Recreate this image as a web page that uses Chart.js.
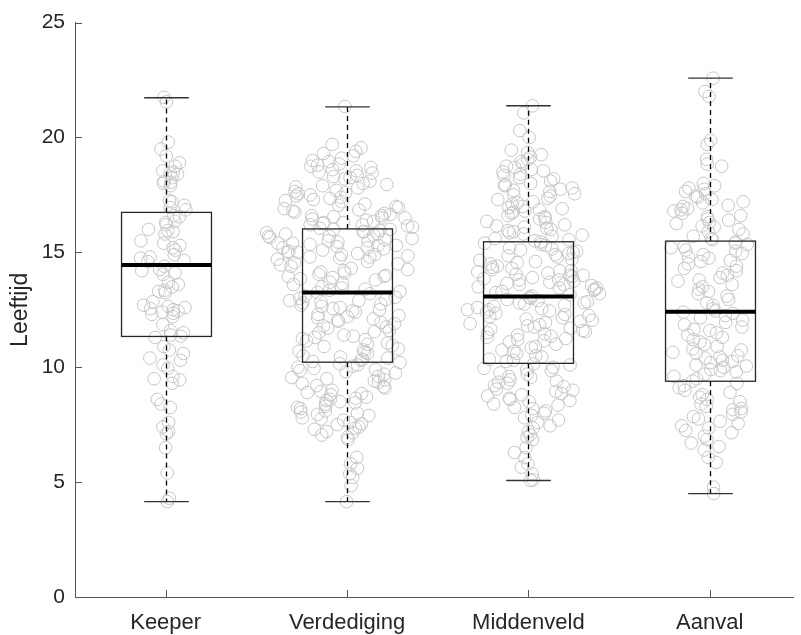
<!DOCTYPE html>
<html><head><meta charset="utf-8">
<script src="https://cdn.jsdelivr.net/npm/chart.js@4"></script>
<style>html,body{margin:0;padding:0;background:#fff}#wrap{width:801px;height:635px}</style>
</head><body><div id="wrap"><canvas id="c" width="801" height="635"></canvas></div>
<script>
const categories = ['Keeper', 'Verdediging', 'Middenveld', 'Aanval'];

const keeperAges = [21.75, 21.55, 19.8, 19.5, 19.2, 18.9, 18.75, 18.55, 18.4, 18.5, 18.45, 18.25, 18.1, 18.0, 18.05, 17.9,
  17.2, 17.25, 17.05, 16.85, 16.95, 16.6, 16.3, 16.0, 16.2, 15.9, 16.55, 16.35, 15.95, 15.8, 15.4, 15.3, 15.5, 15.1,
  14.8, 15.2, 14.9, 14.6, 14.65, 14.75, 14.4, 14.2, 14.25, 14.1, 14.05, 13.6, 13.3, 13.5, 13.35, 13.25, 13.7, 12.85,
  12.65, 12.6, 12.7, 12.4, 12.55, 12.2, 12.45, 12.35, 12.5, 12.3, 11.85, 11.6, 11.5, 11.4, 11.3, 11.35, 10.9, 10.75,
  10.6, 10.4, 10.3, 10.1, 9.95, 9.6, 9.3, 9.45, 9.5, 8.4, 8.6, 8.25, 7.6, 7.4, 7.2, 7.1, 6.5, 5.4, 4.3, 4.15];

const verdedigingAges = [21.35,
  19.7, 19.55, 19.4, 19.3, 19.2, 19.1,
  19.0, 18.95, 18.85, 18.8, 18.75, 18.7, 18.6, 18.55, 18.5, 18.45, 18.35, 18.3, 18.25, 18.2,
  18.1, 18.0, 17.95, 17.9, 17.85, 17.8, 17.7, 17.65, 17.6, 17.55, 17.5, 17.45, 17.4, 17.35,
  17.3, 17.25, 17.2, 17.1, 17.05, 17.0, 16.95, 16.9, 16.85, 16.8, 16.75, 16.7, 16.65, 16.6, 16.6, 16.55, 16.5, 16.5,
  16.45, 16.4, 16.35, 16.3, 16.3, 16.25, 16.2, 16.2, 16.15, 16.1, 16.05, 16.0, 16.0, 15.95, 15.9, 15.9, 15.85, 15.8, 15.8, 15.75, 15.7, 15.7, 15.65, 15.6,
  15.55, 15.5, 15.5, 15.45, 15.4, 15.4, 15.35, 15.3, 15.3, 15.25, 15.2, 15.2, 15.15, 15.1, 15.05, 15.0, 15.0, 14.95, 14.9, 14.9, 14.85, 14.8, 14.8, 14.75,
  14.7, 14.6, 14.55, 14.5, 14.45, 14.4, 14.3, 14.25, 14.2, 14.15, 14.1, 14.05, 14.0, 13.95, 13.95, 13.9,
  13.85, 13.8, 13.7, 13.65, 13.6, 13.5, 13.45, 13.4, 13.35, 13.3, 13.25, 13.2, 13.1, 13.05, 13.0, 12.95, 12.9, 12.9, 12.85,
  12.8, 12.75, 12.7, 12.65, 12.6, 12.55, 12.5, 12.45, 12.4, 12.3, 12.25, 12.2, 12.15, 12.1, 12.05, 12.0,
  11.95, 11.9, 11.8, 11.75, 11.7, 11.6, 11.55, 11.5, 11.4, 11.35, 11.3, 11.25, 11.2, 11.15,
  11.05, 11.0, 10.95, 10.9, 10.8, 10.75, 10.7, 10.65, 10.6, 10.5, 10.45, 10.4, 10.35, 10.3,
  10.25, 10.2, 10.15, 10.1, 10.05, 10.0, 9.95, 9.9, 9.85, 9.8, 9.75, 9.7, 9.6, 9.55, 9.5, 9.45, 9.4,
  9.35, 9.3, 9.2, 9.15, 9.1, 9.0, 8.95, 8.9, 8.85, 8.8, 8.7, 8.65, 8.6, 8.55,
  8.5, 8.45, 8.4, 8.3, 8.25, 8.2, 8.1, 8.05, 8.0, 7.95, 7.9, 7.8, 7.75, 7.7,
  7.6, 7.55, 7.5, 7.4, 7.35, 7.3, 7.2, 7.15, 7.05, 6.95, 6.85,
  6.08, 5.79, 5.6, 5.36, 5.21, 4.85, 4.15];

const middenveldAges = [21.38, 21.07, 20.3, 20.0,
  19.45, 19.35, 19.25, 19.15, 19.05, 18.95, 18.85, 18.75, 18.7, 18.6,
  18.55, 18.5, 18.4, 18.35, 18.25, 18.2, 18.1, 18.0, 17.95, 17.9, 17.8, 17.75,
  17.7, 17.65, 17.55, 17.5, 17.45, 17.35, 17.3, 17.2, 17.15, 17.1, 17.0, 16.95, 16.9,
  16.85, 16.8, 16.75, 16.7, 16.6, 16.55, 16.5, 16.45, 16.35, 16.3, 16.2, 16.15, 16.1, 16.05,
  16.0, 15.95, 15.9, 15.85, 15.8, 15.75, 15.7, 15.6, 15.55, 15.5, 15.45, 15.4, 15.35, 15.3, 15.2, 15.15,
  15.1, 15.05, 15.0, 14.95, 14.9, 14.85, 14.8, 14.7, 14.65, 14.6, 14.55, 14.5, 14.4, 14.35, 14.3,
  14.25, 14.2, 14.2, 14.15, 14.1, 14.05, 14.0, 14.0, 13.95, 13.9, 13.85, 13.8, 13.8, 13.75, 13.7, 13.65, 13.6, 13.6, 13.55, 13.5, 13.45, 13.45,
  13.4, 13.35, 13.3, 13.25, 13.2, 13.15, 13.1, 13.05, 13.0, 12.95, 12.9, 12.85,
  12.8, 12.8, 12.75, 12.7, 12.65, 12.6, 12.55, 12.5, 12.5, 12.45, 12.4, 12.35, 12.3, 12.25, 12.2, 12.15, 12.1, 12.05, 12.0,
  11.95, 11.9, 11.85, 11.8, 11.75, 11.7, 11.65, 11.6, 11.55, 11.5, 11.45, 11.4, 11.35, 11.3, 11.25, 11.2, 11.15,
  11.1, 11.0, 10.9, 10.85, 10.75, 10.7, 10.6, 10.5, 10.45, 10.35, 10.3,
  10.25, 10.15, 10.1, 10.0, 9.95, 9.9, 9.85, 9.75, 9.7, 9.6, 9.55, 9.45, 9.4,
  9.35, 9.3, 9.2, 9.15, 9.05, 9.0, 8.95, 8.85, 8.8, 8.75, 8.65, 8.6, 8.55,
  8.5, 8.4, 8.35, 8.25, 8.2, 8.1, 8.0, 7.9, 7.8, 7.7,
  7.6, 7.45, 7.35, 7.2, 7.05, 6.95, 6.85,
  6.51, 6.29, 6.07, 5.79, 5.65, 5.36, 5.1, 5.07];

const aanvalAges = [22.58, 22.0, 21.78, 19.88, 19.7, 19.05, 18.84, 18.75,
  18.0, 17.9, 17.8, 17.75, 17.65, 17.55, 17.45, 17.4, 17.3, 17.2,
  17.15, 17.05, 17.0, 16.9, 16.85, 16.8, 16.7, 16.6, 16.55, 16.45, 16.4, 16.3,
  16.25, 16.15, 16.1, 16.0, 15.9, 15.8, 15.7, 15.6, 15.55, 15.45,
  15.4, 15.35, 15.25, 15.2, 15.1, 15.05, 14.95, 14.9, 14.8, 14.75, 14.65, 14.6,
  14.5, 14.4, 14.3, 14.2, 14.1, 14.0, 13.9, 13.8, 13.75,
  13.6, 13.5, 13.4, 13.3, 13.2, 13.1, 12.95, 12.8, 12.7, 12.55, 12.45,
  12.4, 12.35, 12.25, 12.15, 12.05, 11.95, 11.85, 11.75, 11.65, 11.6,
  11.5, 11.4, 11.3, 11.2, 11.1, 11.0, 10.9, 10.8, 10.75,
  10.65, 10.6, 10.5, 10.45, 10.4, 10.3, 10.25, 10.2, 10.1, 10.05, 10.0, 9.9, 9.85,
  9.8, 9.7, 9.6, 9.5, 9.4, 9.3, 9.2, 9.1, 9.0,
  8.9, 8.8, 8.7, 8.6, 8.5, 8.4, 8.3, 8.2, 8.15,
  8.05, 7.95, 7.85, 7.75, 7.65, 7.55, 7.45, 7.35, 7.25,
  7.15, 7.0, 6.85, 6.7, 6.55, 6.4, 6.08, 5.86, 4.78, 4.5];

const whiskerLow  = [4.15, 4.15, 5.07, 4.5];
const q1          = [11.34, 10.22, 10.17, 9.39];
const medians     = [14.45, 13.25, 13.08, 12.42];
const q3          = [16.74, 16.02, 15.46, 15.49];
const whiskerHigh = [21.73, 21.33, 21.38, 22.58];
const yTicks = [0, 5, 10, 15, 20, 25];

const groups = [keeperAges, verdedigingAges, middenveldAges, aanvalAges];

// density-scaled spread layout with a deterministic hash jitter
function hash01(a, b) {
  const s = Math.sin(a * 12.9898 + b * 78.233) * 43758.5453;
  return s - Math.floor(s);
}
function spreadOffsets(vals, gi) {
  const h = 0.7, K = 0.0175;
  return vals.map((v, i) => {
    let f = 0;
    for (const w of vals) { const z = (v - w) / h; f += Math.exp(-0.5 * z * z); }
    f /= h * Math.sqrt(2 * Math.PI);
    const u = hash01(i + 1 + gi * 1000, v) * 2 - 1;
    return u * f * K;
  });
}

const datasets = groups.map((vals, gi) => {
  const offs = spreadOffsets(vals, gi);
  return {
    label: categories[gi],
    data: vals.map((v, i) => ({ x: gi + 1 + offs[i], y: v })),
    pointRadius: 6.3,
    pointStyle: 'circle',
    borderColor: '#c6c6c6',
    backgroundColor: 'rgba(0,0,0,0)',
    borderWidth: 1,
  };
});

const boxPlugin = {
  id: 'boxes',
  afterDatasetsDraw(chart) {
    const { ctx, scales: { x, y } } = chart;
    ctx.save();
    categories.forEach((c, i) => {
      const cx = Math.round(x.getPixelForValue(i + 1)) + 0.5;
      const hw = x.getPixelForValue(i + 1.248) - x.getPixelForValue(i + 1);
      const cw = x.getPixelForValue(i + 1.123) - x.getPixelForValue(i + 1);
      const py = v => y.getPixelForValue(v);
      ctx.strokeStyle = '#000';
      ctx.lineWidth = 1.3;
      ctx.setLineDash([5, 4]);
      ctx.beginPath();
      ctx.moveTo(cx, py(q3[i])); ctx.lineTo(cx, py(whiskerHigh[i]));
      ctx.moveTo(cx, py(q1[i])); ctx.lineTo(cx, py(whiskerLow[i]));
      ctx.stroke();
      ctx.setLineDash([]);
      ctx.strokeStyle = '#333';
      ctx.beginPath();
      ctx.moveTo(cx - cw, py(whiskerHigh[i])); ctx.lineTo(cx + cw, py(whiskerHigh[i]));
      ctx.moveTo(cx - cw, py(whiskerLow[i])); ctx.lineTo(cx + cw, py(whiskerLow[i]));
      ctx.stroke();
      ctx.strokeStyle = '#262626';
      ctx.strokeRect(cx - hw, py(q3[i]), 2 * hw, py(q1[i]) - py(q3[i]));
      ctx.strokeStyle = '#000';
      ctx.lineWidth = 4;
      ctx.beginPath();
      ctx.moveTo(cx - hw, py(medians[i])); ctx.lineTo(cx + hw, py(medians[i]));
      ctx.stroke();
    });
    // inward tick marks
    ctx.strokeStyle = '#555';
    ctx.lineWidth = 1;
    const area = chart.chartArea;
    ctx.beginPath();
    yTicks.forEach(t => {
      const py = Math.round(y.getPixelForValue(t)) + 0.5;
      ctx.moveTo(area.left, py); ctx.lineTo(area.left + 7, py);
    });
    categories.forEach((c, i) => {
      const px = Math.round(x.getPixelForValue(i + 1)) + 0.5;
      ctx.moveTo(px, area.bottom); ctx.lineTo(px, area.bottom - 7);
    });
    ctx.stroke();
    ctx.restore();
  }
};

Chart.defaults.font.family = "'Liberation Sans', Arial, sans-serif";
Chart.defaults.color = '#262626';

new Chart(document.getElementById('c'), {
  type: 'scatter',
  data: { datasets },
  plugins: [boxPlugin],
  options: {
    responsive: false,
    animation: false,
    devicePixelRatio: 1,
    layout: { padding: { top: 19, right: 0, left: 0, bottom: 0 } },
    plugins: { legend: { display: false }, tooltip: { enabled: false } },
    scales: {
      x: {
        type: 'linear',
        min: 0.5,
        max: 4.463,
        afterBuildTicks: axis => { axis.ticks = [1, 2, 3, 4].map(v => ({ value: v })); },
        afterFit: s => { s.height = 38; },
        ticks: {
          autoSkip: false, maxRotation: 0, padding: 13,
          font: { size: 22 }, color: '#262626',
          callback: v => categories[v - 1]
        },
        grid: { display: true, drawOnChartArea: false, drawTicks: false },
        border: { color: '#555', width: 1 }
      },
      y: {
        min: 0,
        max: 25,
        afterBuildTicks: axis => { axis.ticks = yTicks.map(v => ({ value: v })); },
        afterFit: s => { s.width = 75; },
        ticks: { padding: 10, font: { size: 21 }, color: '#262626' },
        title: { display: true, text: 'Leeftijd', font: { size: 23 }, color: '#262626', padding: { top: 7, bottom: 0 } },
        grid: { display: true, drawOnChartArea: false, drawTicks: false },
        border: { color: '#555', width: 1 }
      }
    }
  }
});
</script></body></html>
